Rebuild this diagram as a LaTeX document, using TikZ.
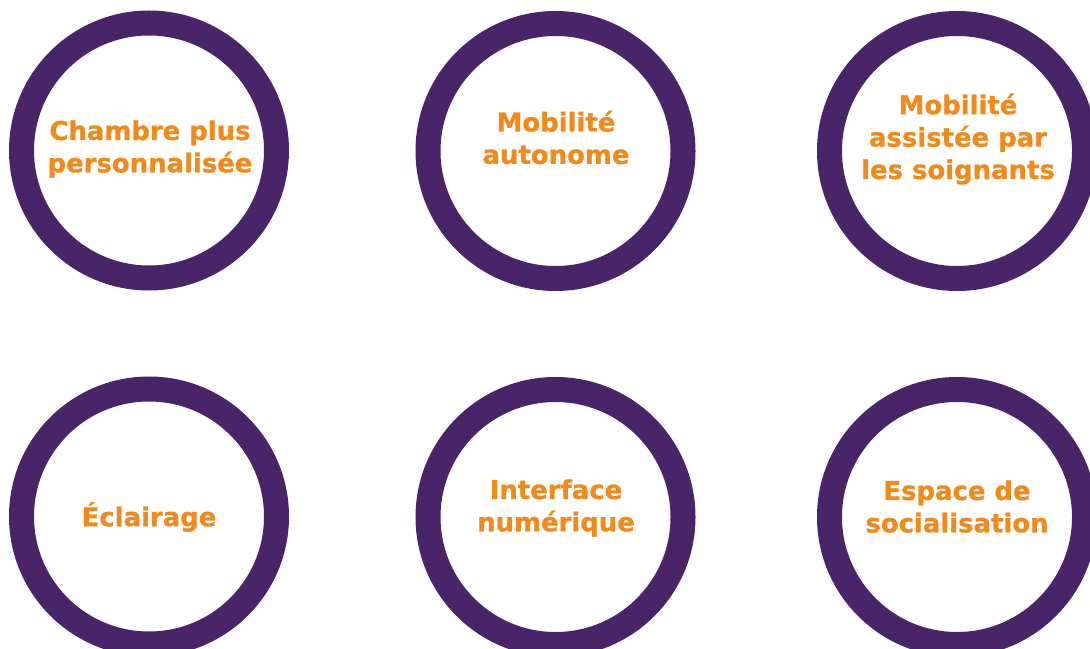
\documentclass[tikz,border=0pt]{standalone}
\usepackage{fontspec}
\setmainfont{DejaVu Sans}[BoldFeatures={FakeBold=1}]
\usepackage{tikz}
\definecolor{ringpurple}{RGB}{74,36,104}
\definecolor{themeorange}{RGB}{240,138,29}

\begin{document}
\begin{tikzpicture}[x=1bp,y=-1bp,
  ring/.style={circle,draw=ringpurple,line width=25bp,minimum size=255bp,inner sep=0pt},
  theme/.style={text=themeorange,align=center,font=\bfseries\fontsize{26}{32.5}\selectfont}]
\useasboundingbox (0,0) rectangle (1090,649);
\clip (0,0) rectangle (1090,649);
\node[ring] (R1) at (149,150.5) {};
\node[ring] (R2) at (555.5,151) {};
\node[ring] (R3) at (957,151) {};
\node[ring] (R4) at (149,516.5) {};
\node[ring] (R5) at (555.5,517) {};
\node[ring] (R6) at (957,517) {};
\node[theme] (T1) at (150,149) {Chambre plus\\personnalisée};
\node[theme] (T2) at (556,137.5) {Mobilité\\autonome};
\node[theme] (T3) at (958,139) {Mobilité\\assistée par\\les soignants};
\node[theme] (T4) at (149,517) {Éclairage};
\node[theme] (T5) at (556,508) {Interface\\numérique};
\node[theme] (T6) at (957,506.5) {Espace de\\socialisation};
\end{tikzpicture}
\end{document}
